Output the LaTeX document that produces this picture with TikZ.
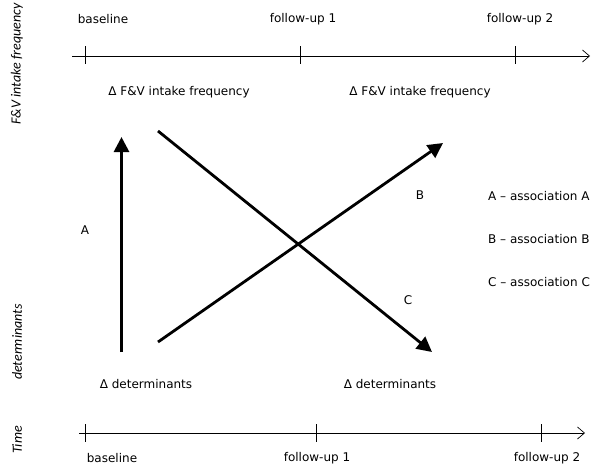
\documentclass[tikz,border=0pt]{standalone}
\usepackage{fontspec}
\setmainfont{DejaVu Sans}
\newfontfamily\sidefont{Carlito}
\usepackage{tikz}
\usetikzlibrary{arrows.meta, positioning}

\begin{document}
\begin{tikzpicture}[
  x=1pt, y=-1pt,
  lbl/.style={font=\fontsize{12}{14}\selectfont, inner sep=1pt},
  sidelbl/.style={font=\sidefont\fontsize{14}{16}\selectfont\itshape, rotate=90, inner sep=1pt},
  timeaxis/.style={-{Straight Barb[length=7pt, width=12pt]}, line width=0.7pt},
  tick/.style={line width=0.7pt},
  assoc/.style={-{Triangle[length=15pt, width=15pt]}, line width=2.8pt}
]
\useasboundingbox (0,0) rectangle (599,467);

% side labels
\node[sidelbl] (yfv) at (17,64) {F\&V intake frequency};
\node[sidelbl] (ydet) at (17,342) {determinants};
\node[sidelbl] (ytime) at (17,440) {Time};

% top time axis
\coordinate (t0) at (72,56);
\coordinate (t1) at (590,56);
\draw[timeaxis] (t0) -- (t1);
\foreach \x in {85,300,515} {
  \draw[tick] (\x,46) -- (\x,64);
}
\node[lbl] (tbase) at (103,19) {baseline};
\node[lbl] (tfu1) at (303,19) {follow-up 1};
\node[lbl] (tfu2) at (520,19) {follow-up 2};

% bottom time axis
\coordinate (b0) at (79,433);
\coordinate (b1) at (585,433);
\draw[timeaxis] (b0) -- (b1);
\foreach \x in {85,316,541} {
  \draw[tick] (\x,424) -- (\x,442);
}
\node[lbl] (bbase) at (112,458) {baseline};
\node[lbl] (bfu1) at (317,458) {follow-up 1};
\node[lbl] (bfu2) at (547,458) {follow-up 2};

% outcome and determinant labels
\node[lbl] (fv0) at (179,92) {Δ F\&V intake frequency};
\node[lbl] (fv1) at (420,92) {Δ F\&V intake frequency};
\node[lbl] (det0) at (146,384) {Δ determinants};
\node[lbl] (det1) at (390,384) {Δ determinants};

% arrow ends
\coordinate (a0) at (121.5,352);
\coordinate (a1) at (121.5,137);
\coordinate (b0s) at (158,342);
\coordinate (b1e) at (443,143);
\coordinate (c0) at (158,131);
\coordinate (c1) at (432,352);

\draw[assoc] (a0) -- (a1);
\draw[assoc] (b0s) -- (b1e);
\draw[assoc] (c0) -- (c1);

\node[lbl] (la) at (85,230) {A};
\node[lbl] (lb) at (420,195) {B};
\node[lbl] (lc) at (408,300) {C};

% legend
\node[lbl, anchor=west] (legA) at (487,196) {A -- association A};
\node[lbl, below=43pt of legA.west, anchor=west] (legB) {B -- association B};
\node[lbl, below=43pt of legB.west, anchor=west] (legC) {C -- association C};
\end{tikzpicture}
\end{document}
